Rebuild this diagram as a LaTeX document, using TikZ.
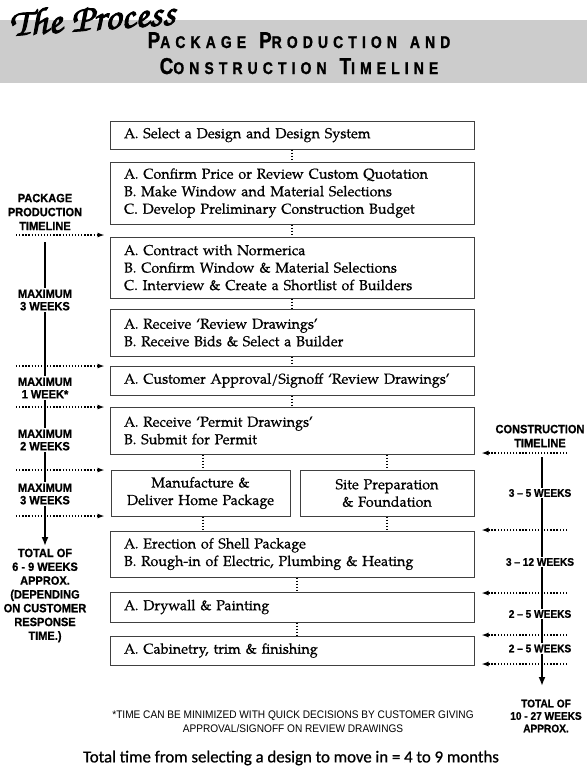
\documentclass[tikz,border=0pt]{standalone}
\usepackage{fontspec}
\usetikzlibrary{arrows.meta,calc}
\newfontfamily\palfont{TeX Gyre Pagella}[FakeBold=0.6]
\newfontfamily\chorusfont{TeX Gyre Chorus}[FakeBold=2.5,FakeStretch=1.08]
\newfontfamily\labfont{Liberation Sans}[FakeStretch=0.92,FakeBold=0.9]
\newfontfamily\titfont{Liberation Sans}[FakeStretch=0.82,LetterSpace=30,FakeBold=1.2]
\newfontfamily\footfont{Liberation Sans}[FakeStretch=0.92]
\newfontfamily\botfont{Carlito}[FakeBold=0.8]
\newcommand\tsc[2]{{\fontsize{23}{23}\selectfont #1}{\fontsize{17}{17}\selectfont #2}}
\newcommand\wgap{\hspace{13pt}}
\begin{document}
\begin{tikzpicture}[x=1pt,y=-1pt,
  bx/.style={draw=black!75, line width=1pt, inner xsep=14pt, inner ysep=0pt,
    text width=336pt, align=left, font=\palfont\fontsize{14.4}{17.5}\selectfont},
  hbx/.style={draw=black!75, line width=1pt, inner xsep=4pt, inner ysep=0pt,
    align=center, font=\palfont\fontsize{14.4}{17.5}\selectfont, minimum height=46pt},
  dotcon/.style={line width=1.3pt, dash pattern=on 1.3pt off 1.8pt},
  dotarr/.style={line width=1.3pt, dash pattern=on 1.3pt off 1.8pt,
    -{Latex[length=7pt,width=5pt]}},
  tline/.style={line width=2.6pt, -{Latex[length=9pt,width=7pt]}},
  lab/.style={font=\labfont\bfseries\fontsize{12}{12.5}\selectfont, align=center,
    fill=white, inner xsep=1pt, inner ysep=1.5pt},
  rlab/.style={lab, font=\labfont\bfseries\fontsize{11}{12.5}\selectfont}]
\useasboundingbox (0,0) rectangle (587,772);
\fill[white] (0,0) rectangle (587,772);
\fill[black!20] (0,20) rectangle (587,83);

% header
\node[anchor=base west, inner sep=0pt, rotate=4, font=\chorusfont\fontsize{38}{38}\selectfont] (proc) at (10,36) {The Process};
\node[anchor=base, inner sep=0pt, font=\titfont\bfseries] (t1) at (299,48) {\tsc{P}{ACKAGE}\wgap\tsc{P}{RODUCTION}\wgap\tsc{}{AND}};
\node[anchor=base, inner sep=0pt, font=\titfont\bfseries] (t2) at (299,74) {\tsc{C}{ONSTRUCTION}\wgap\tsc{T}{IMELINE}};

% boxes
\node[bx, minimum height=28pt] (b1) at (292,135) {A. Select a Design and Design System};
\node[bx, minimum height=62pt] (b2) at (292,193) {A. Confirm Price or Review Custom Quotation\\B. Make Window and Material Selections\\C. Develop Preliminary Construction Budget};
\node[bx, minimum height=61pt] (b3) at (292,267.5) {A. Contract with Normerica\\B. Confirm Window \& Material Selections\\C. Interview \& Create a Shortlist of Builders};
\node[bx, minimum height=47pt] (b4) at (292,332.5) {A. Receive ‘Review Drawings’\\B. Receive Bids \& Select a Builder};
\node[bx, minimum height=29pt] (b5) at (292,380.5) {A. Customer Approval/Signoff ‘Review Drawings’};
\node[bx, minimum height=47pt] (b6) at (292,430.5) {A. Receive ‘Permit Drawings’\\B. Submit for Permit};
\node[hbx, minimum width=179pt, text width=171pt] (b7a) at (200.5,493) {Manufacture \&\\Deliver Home Package};
\node[hbx, minimum width=174pt, text width=166pt] (b7b) at (387,493) {Site Preparation\\\& Foundation};
\node[bx, minimum height=46pt] (b8) at (292,554) {A. Erection of Shell Package\\B. Rough-in of Electric, Plumbing \& Heating};
\node[bx, minimum height=30pt] (b9) at (292,607) {A. Drywall \& Painting};
\node[bx, minimum height=29pt] (b10) at (292,650.5) {A. Cabinetry, trim \& finishing};

% dotted connectors
\draw[dotcon] (b1.south) -- (b2.north);
\draw[dotcon] (b2.south) -- (b3.north);
\draw[dotcon] (b3.south) -- (b4.north);
\draw[dotcon] (b4.south) -- (b5.north);
\draw[dotcon] (b5.south) -- (b6.north);
\draw[dotcon] ([xshift=2.5pt]b7a.north |- b6.south) -- ([xshift=2.5pt]b7a.north);
\draw[dotcon] (b7b.north |- b6.south) -- (b7b.north);
\draw[dotcon] ([xshift=2.5pt]b7a.south) -- ([xshift=2.5pt]b7a.south |- b8.north);
\draw[dotcon] (b7b.south) -- (b7b.south |- b8.north);
\draw[dotcon] ([xshift=5pt]b8.south) -- ([xshift=5pt]b9.north);
\draw[dotcon] ([xshift=5pt]b9.south) -- ([xshift=5pt]b10.north);

% left timeline
\coordinate (pa1) at (16,235);
\coordinate (pa2) at (16,366);
\coordinate (pa3) at (16,407);
\coordinate (pa4) at (16,470);
\coordinate (pa5) at (16,516);
\draw[dotarr, shorten >=5pt] (pa1) -- (pa1 -| b3.west);
\draw[dotarr, shorten >=5pt] (pa2) -- (pa2 -| b5.west);
\draw[dotarr, shorten >=5pt] (pa3) -- (pa3 -| b6.west);
\draw[dotarr, shorten >=6pt] (pa4) -- (pa4 -| b7a.west);
\draw[dotarr, shorten >=6pt] (pa5) -- (pa5 -| b7a.west);
\coordinate (lt) at (45,242);
\coordinate (lb) at (45,546);
\draw[tline] (lt) -- (lb);
\node[lab, font=\labfont\bfseries\fontsize{12}{14}\selectfont, fill=none] (ppt) at (45,212) {PACKAGE\\PRODUCTION\\TIMELINE};
\node[lab] (m1) at (45,300) {MAXIMUM\\3 WEEKS};
\node[lab] (m2) at (45,388) {MAXIMUM\\1 WEEK*};
\node[lab] (m3) at (45,440) {MAXIMUM\\2 WEEKS};
\node[lab] (m4) at (45,494) {MAXIMUM\\3 WEEKS};
\node[lab, fill=none, font=\labfont\bfseries\fontsize{12}{13.8}\selectfont, anchor=north] (tot1) at (45,547) {TOTAL OF\\6 - 9 WEEKS\\APPROX.\\(DEPENDING\\ON CUSTOMER\\RESPONSE\\TIME.)};

% right timeline
\coordinate (ra1) at (567,453);
\coordinate (ra2) at (567,530);
\coordinate (ra3) at (567,593);
\coordinate (ra4) at (567,635);
\coordinate (ra5) at (567,664);
\draw[dotarr, shorten >=7pt] (ra1) -- (ra1 -| b6.east);
\draw[dotarr, shorten >=7pt] (ra2) -- (ra2 -| b8.east);
\draw[dotarr, shorten >=7pt] (ra3) -- (ra3 -| b9.east);
\draw[dotarr, shorten >=7pt] (ra4) -- (ra4 -| b10.east);
\draw[dotarr, shorten >=7pt] (ra5) -- (ra5 -| b10.east);
\coordinate (rt) at (542,457);
\coordinate (rb) at (542,686);
\draw[tline] (rt) -- (rb);
\node[lab, fill=none, font=\labfont\bfseries\fontsize{12}{14}\selectfont] (ctl) at (540,436) {CONSTRUCTION\\TIMELINE};
\node[rlab] (w1) at (540,493) {3 – 5 WEEKS};
\node[rlab] (w2) at (540,562) {3 – 12 WEEKS};
\node[rlab] (w3) at (540,614) {2 – 5 WEEKS};
\node[rlab] (w4) at (540,648.5) {2 – 5 WEEKS};
\node[rlab, fill=none] (tot2) at (546,716) {TOTAL OF\\10 - 27 WEEKS\\APPROX.};

% footnote and total
\node[align=center, inner sep=0pt, font=\footfont\fontsize{11}{14}\selectfont] (fn) at (293,722) {*TIME CAN BE MINIMIZED WITH QUICK DECISIONS BY CUSTOMER GIVING\\APPROVAL/SIGNOFF ON REVIEW DRAWINGS};
\node[inner sep=0pt, font=\botfont\fontsize{16.8}{20}\selectfont] (tot) at (291,758) {Total time from selecting a design to move in = 4 to 9 months};
\end{tikzpicture}
\end{document}
